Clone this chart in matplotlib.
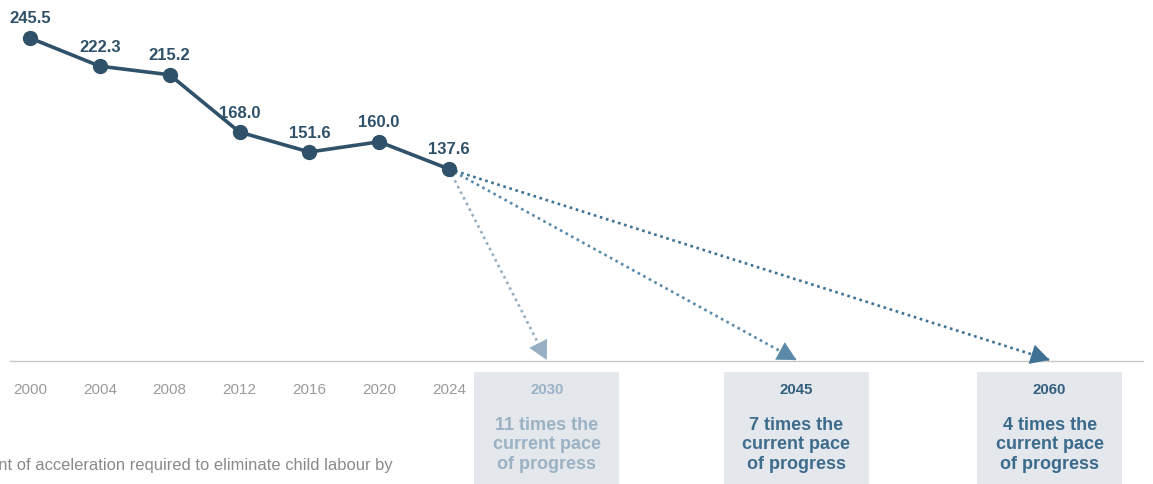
import numpy as np
import matplotlib.pyplot as plt
from matplotlib.patches import Rectangle

plt.rcParams['font.family'] = ['Liberation Sans', 'DejaVu Sans']

years = [2000, 2004, 2008, 2012, 2016, 2020, 2024]
values = [245.5, 222.3, 215.2, 168.0, 151.6, 160.0, 137.6]
tick_labels = ['2000', '2004', '2008', '2012', '2016', '2020', '2024']

target_years = ['2030', '2045', '2060']
target_pos = [2029.6, 2043.9, 2058.4]      # box centres on the year axis
target_text = ['11 times the\ncurrent pace\nof progress',
               '7 times the\ncurrent pace\nof progress',
               '4 times the\ncurrent pace\nof progress']
arrow_col = ['#97afc2', '#5b8aa8', '#3f7193']
year_col = ['#9ab2c4', '#33607f', '#33607f']
text_col = ['#9ab2c4', '#3e6c8c', '#3a6a8c']

line_col = '#2f5169'
W, H = 1153, 485
fig = plt.figure(figsize=(W / 100, H / 100), dpi=100)
ax = fig.add_axes([0, 0, 1, 1])

# pixel layout -> data ranges
px_per_year = (449 - 30) / 24
px_per_unit = (170 - 39) / (245.5 - 137.6)
y0_px = 170 + 137.6 * px_per_unit
ax.set_xlim(2000 - 30 / px_per_year, 2000 + (W - 30) / px_per_year)
ax.set_ylim((y0_px - H) / px_per_unit, y0_px / px_per_unit)
ax.axis('off')

def py(p):
    # pixel row from top -> y value
    return (y0_px - p) / px_per_unit

def pxx(p):
    return 2000 + (p - 30) / px_per_year

base = py(362)
ax.plot([pxx(10), pxx(1143)], [base, base], color='#c8c8c8', lw=1.0, zorder=1)

# projection arrows
for i in range(3):
    tip_x, tip_y = target_pos[i], py(361)
    ax.plot([years[-1], tip_x], [values[-1], tip_y], color=arrow_col[i],
            lw=1.9, linestyle=(0, (1, 1.4)), zorder=2)
    dx, dy = tip_x - years[-1], tip_y - values[-1]
    ax.annotate('', xy=(tip_x, tip_y),
                xytext=(tip_x - dx * 0.12, tip_y - dy * 0.12),
                arrowprops=dict(arrowstyle='-|>,head_length=0.75,head_width=0.4',
                                color=arrow_col[i], lw=0, mutation_scale=18,
                                shrinkA=0, shrinkB=0), zorder=3)

ax.plot(years, values, color=line_col, lw=2.6, marker='o', ms=10,
        solid_capstyle='round', zorder=4)
for x, v in zip(years, values):
    ax.annotate('%.1f' % v, (x, v), xytext=(0, 9), textcoords='offset points',
                ha='center', va='bottom', fontsize=12, fontweight='bold',
                color=line_col)

for x, t in zip(years, tick_labels):
    ax.text(x, py(390), t, ha='center', va='center', fontsize=11, color='#9a9a9a')

# boxes for target years
box_w = 145 / px_per_year
for i in range(3):
    ax.add_patch(Rectangle((target_pos[i] - box_w / 2, py(490)), box_w,
                           py(373) - py(490), facecolor='#e4e7ec',
                           edgecolor='none', zorder=1))
    ax.text(target_pos[i], py(390), target_years[i], ha='center', va='center',
            fontsize=10.8, fontweight='bold', color=year_col[i])
    ax.text(target_pos[i], py(445), target_text[i], ha='center', va='center',
            fontsize=13, fontweight='bold', color=text_col[i], linespacing=1.2)

ax.text(pxx(393), py(466), 'Amount of acceleration required to eliminate child labour by',
        ha='right', va='center', fontsize=11.9, color='#8a8a8a')

fig.savefig('out.png', dpi=100)
